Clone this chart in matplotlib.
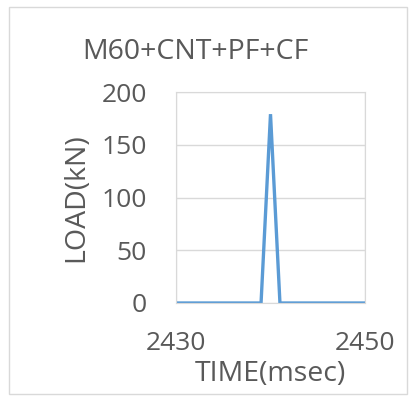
import matplotlib.pyplot as plt
from matplotlib.patches import Rectangle

# data
time = [2430, 2431, 2432, 2433, 2434, 2435, 2436, 2437, 2438, 2439, 2440,
        2441, 2442, 2443, 2444, 2445, 2446, 2447, 2448, 2449, 2450]
load = [0, 0, 0, 0, 0, 0, 0, 0, 0, 0, 179,
        0, 0, 0, 0, 0, 0, 0, 0, 0, 0]
yticks = [0, 50, 100, 150, 200]
xticks = [2430, 2450]

grey = "#595959"
plt.rcParams['font.family'] = ['Open Sans', 'DejaVu Sans']

fig = plt.figure(figsize=(4.09, 3.97), dpi=100)
W, H = 409, 397
ax = fig.add_axes([176 / W, 1 - 303 / H, (365 - 176) / W, (303 - 92) / H])

ax.plot(time, load, color="#5B9BD5", lw=2.4, solid_joinstyle="miter")
ax.set_xlim(2430, 2450)
ax.set_ylim(0, 200)
ax.set_yticks(yticks)
ax.set_xticks(xticks)
ax.grid(True, color="#D9D9D9", lw=1)
ax.set_axisbelow(True)
for s in ax.spines.values():
    s.set_color("#D9D9D9")
ax.tick_params(length=0, labelsize=19, colors=grey)
ax.tick_params(axis="y", pad=21)
ax.tick_params(axis="x", pad=20)

fig.text(195 / W, 1 - 52 / H, "M60+CNT+PF+CF", ha="center", va="center",
         fontsize=20.5, color=grey)
fig.text(270 / W, 1 - 374 / H, "TIME(msec)", ha="center", va="center",
         fontsize=20.5, color=grey)
fig.text(76 / W, 1 - 198 / H, "LOAD(kN)", ha="center", va="center",
         rotation=90, fontsize=20.5, color=grey)

fig.patches.append(Rectangle((9 / W, 3 / H), 398 / W, 1 - 10 / H,
                             transform=fig.transFigure, fill=False,
                             edgecolor="#D9D9D9", lw=1))

fig.savefig("out.png", dpi=100)
